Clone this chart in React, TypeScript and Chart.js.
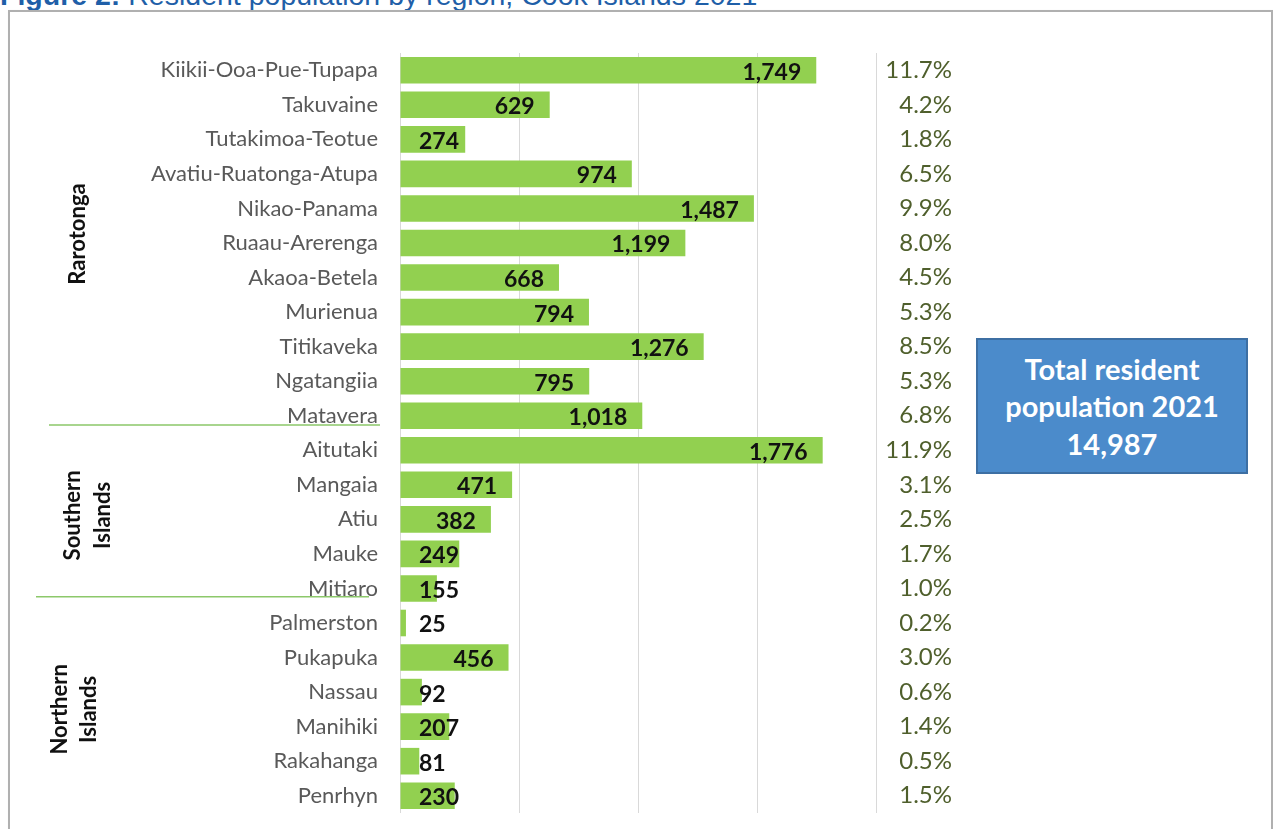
import React, { useEffect, useRef } from "react";
import { Chart, registerables } from "chart.js";

Chart.register(...registerables);

const categories = [
  "Kiikii-Ooa-Pue-Tupapa", "Takuvaine", "Tutakimoa-Teotue", "Avatiu-Ruatonga-Atupa",
  "Nikao-Panama", "Ruaau-Arerenga", "Akaoa-Betela", "Murienua", "Titikaveka",
  "Ngatangiia", "Matavera", "Aitutaki", "Mangaia", "Atiu", "Mauke", "Mitiaro",
  "Palmerston", "Pukapuka", "Nassau", "Manihiki", "Rakahanga", "Penrhyn",
];
const population = [
  1749, 629, 274, 974, 1487, 1199, 668, 794, 1276, 795, 1018,
  1776, 471, 382, 249, 155,
  25, 456, 92, 207, 81, 230,
];
const percentLabels = [
  "11.7%", "4.2%", "1.8%", "6.5%", "9.9%", "8.0%", "4.5%", "5.3%", "8.5%", "5.3%", "6.8%",
  "11.9%", "3.1%", "2.5%", "1.7%", "1.0%",
  "0.2%", "3.0%", "0.6%", "1.4%", "0.5%", "1.5%",
];
const groups = [
  { lines: ["Rarotonga"], first: 0, last: 10 },
  { lines: ["Southern", "Islands"], first: 11, last: 15 },
  { lines: ["Northern", "Islands"], first: 16, last: 21 },
];
const xTicks = [0, 500, 1000, 1500, 2000];

const LABEL_FONT = "Lato, 'Open Sans', sans-serif";

const overlayPlugin = {
  id: "overlay",
  afterDatasetsDraw(chart: any) {
    const ctx = chart.ctx;
    const x = chart.scales.x;
    const y = chart.scales.y;
    const x0 = x.getPixelForValue(0);
    ctx.save();
    // value labels
    ctx.font = `bold 23px ${LABEL_FONT}`;
    ctx.fillStyle = "#111111";
    ctx.textBaseline = "middle";
    ctx.textAlign = "left";
    population.forEach((v, i) => {
      const txt = v.toLocaleString("en-US");
      const w = ctx.measureText(txt).width;
      const end = x.getPixelForValue(v);
      const left = Math.max(end - 15 - w, x0 + 19);
      ctx.fillText(txt, left, y.getPixelForValue(i) + 2);
    });
    // percentages
    ctx.font = `24px ${LABEL_FONT}`;
    ctx.fillStyle = "#4f5f2c";
    ctx.textAlign = "right";
    percentLabels.forEach((p, i) => {
      ctx.fillText(p, chart.chartArea.right + 76, y.getPixelForValue(i));
    });
    // group separators
    ctx.strokeStyle = "#8cc86a";
    ctx.lineWidth = 1.5;
    const sep1 = (y.getPixelForValue(10) + y.getPixelForValue(11)) / 2 - 8;
    const sep2 = (y.getPixelForValue(15) + y.getPixelForValue(16)) / 2 - 9;
    ctx.beginPath();
    ctx.moveTo(49, sep1);
    ctx.lineTo(380, sep1);
    ctx.moveTo(36, sep2);
    ctx.lineTo(369, sep2);
    ctx.stroke();
    // group labels
    ctx.font = `bold 22px ${LABEL_FONT}`;
    ctx.fillStyle = "#111111";
    ctx.textAlign = "center";
    ctx.textBaseline = "middle";
    const centersX = [[78], [73, 103], [60, 89]];
    const shiftY = [-9, -4, 0];
    groups.forEach((g, gi) => {
      const cy = (y.getPixelForValue(g.first) + y.getPixelForValue(g.last)) / 2 + shiftY[gi];
      g.lines.forEach((line, li) => {
        ctx.save();
        ctx.translate(centersX[gi][li], cy);
        ctx.rotate(-Math.PI / 2);
        ctx.fillText(line, 0, 0);
        ctx.restore();
      });
    });
    ctx.restore();
  },
};

export default function App() {
  const ref = useRef<HTMLCanvasElement | null>(null);
  useEffect(() => {
    if (!ref.current) return;
    const chart = new Chart(ref.current, {
      type: "bar",
      data: {
        labels: categories,
        datasets: [
          {
            data: population,
            backgroundColor: "#92d050",
            borderWidth: 0,
            barPercentage: 0.77,
            categoryPercentage: 1,
          },
        ],
      },
      options: {
        indexAxis: "y",
        responsive: false,
        animation: false,
        layout: { padding: { left: 0, right: 397, top: 53, bottom: 16 } },
        plugins: { legend: { display: false }, tooltip: { enabled: false } },
        scales: {
          x: {
            min: 0,
            max: 2000,
            afterBuildTicks: (scale: any) => {
              scale.ticks = xTicks.map((v) => ({ value: v }));
            },
            afterFit: (scale: any) => {
              scale.height = 0;
              scale.paddingLeft = 0;
              scale.paddingRight = 0;
            },
            ticks: { display: false },
            grid: { color: "#d9d9d9", lineWidth: 1, drawTicks: false },
            border: { display: false },
          },
          y: {
            afterFit: (scale: any) => {
              scale.width = 400;
              scale.paddingTop = 0;
              scale.paddingBottom = 0;
            },
            ticks: {
              color: "#595959",
              font: { family: LABEL_FONT, size: 22 },
              padding: 22,
            },
            grid: { display: false, drawTicks: false },
            border: { display: false },
          },
        },
      },
      plugins: [overlayPlugin],
    });
    return () => chart.destroy();
  }, []);

  return (
    <div
      style={{
        position: "fixed",
        left: 0,
        top: 0,
        width: 1273,
        height: 829,
        background: "#ffffff",
        overflow: "hidden",
      }}
    >
      <div
        style={{
          position: "absolute",
          left: 0,
          top: -21,
          fontFamily: "'Liberation Sans', Arial, sans-serif",
          fontSize: 28.5,
          color: "#1f5fa8",
          whiteSpace: "nowrap",
          lineHeight: "32px",
        }}
      >
        <b>Figure 2:</b> Resident population by region, Cook Islands 2021
      </div>
      <div
        style={{
          position: "absolute",
          left: 8,
          top: 10,
          width: 1261,
          height: 840,
          border: "2px solid #b0b0b0",
          boxShadow: "1px 1px 2px rgba(0,0,0,0.15)",
        }}
      />
      <canvas
        ref={ref}
        width={1273}
        height={829}
        style={{ position: "absolute", left: 0, top: 0, width: 1273, height: 829 }}
      />
      <div
        style={{
          position: "absolute",
          left: 976,
          top: 338,
          width: 268,
          height: 132,
          background: "#4b8bcb",
          border: "2px solid #3d6fa3",
          color: "#ffffff",
          fontFamily: LABEL_FONT,
          fontWeight: "bold",
          fontSize: 29,
          lineHeight: "37.5px",
          textAlign: "center",
          display: "flex",
          flexDirection: "column",
          justifyContent: "center",
        }}
      >
        <div>Total resident</div>
        <div>population 2021</div>
        <div>14,987</div>
      </div>
    </div>
  );
}
